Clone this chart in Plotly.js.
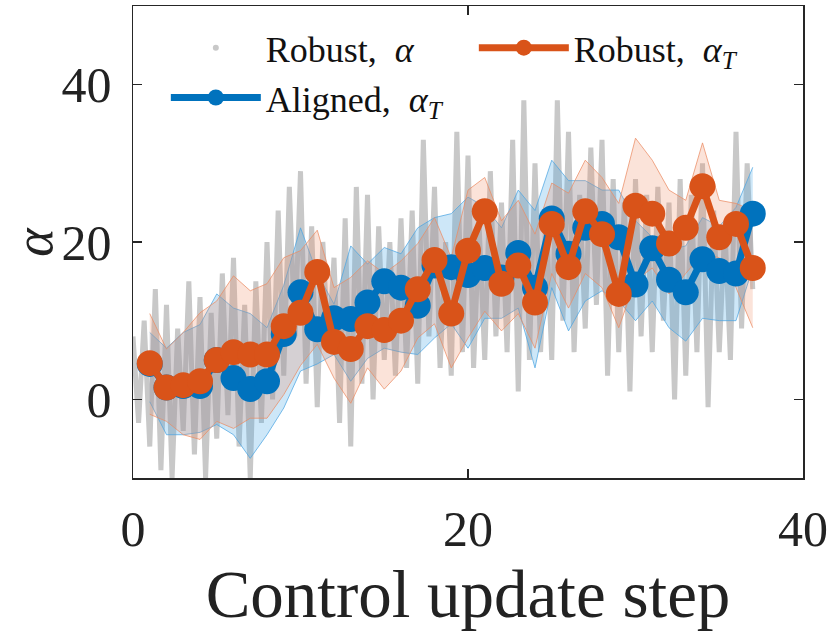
<!DOCTYPE html>
<html>
<head>
<meta charset="utf-8">
<script src="https://cdn.plot.ly/plotly-3.0.1.min.js"></script>
<style>
  html, body { margin: 0; padding: 0; background: #fff; }
  #plot { width: 830px; height: 631px; }
</style>
</head>
<body>
<div id="plot"></div>
<script>
// control update steps
var steps = [1,2,3,4,5,6,7,8,9,10,11,12,13,14,15,16,17,18,19,20,21,22,23,24,25,26,27,28,29,30,31,32,33,34,35,36,37];

// Aligned, alpha_T (mean and band)
var alignedMean  = [4.5,1.5,1.7,1.7,5.0,2.7,1.3,2.3,8.3,13.6,8.9,10.3,10.2,12.3,15.0,14.2,11.9,17.0,16.8,15.8,16.7,15.5,18.6,14.2,23.0,18.5,21.8,22.3,20.6,14.6,19.2,15.2,13.6,17.8,16.3,16.0,23.6];
var alignedUpper = [8.5,6.5,8.5,9.5,13.4,11.6,10.9,9.1,14.5,21.8,16.0,12.1,19.5,17.2,19.3,18.5,21.8,23.1,23.6,25.7,24.5,21.8,26.6,24.0,30.4,27.8,27.8,26.6,26.6,22.7,20.6,19.0,19.5,23.1,22.0,24.4,29.5];
var alignedLower = [-0.3,-4.5,-4.5,-4.2,-3.2,-4.5,-7.5,-4.5,-1.1,3.6,4.5,5.7,2.3,5.2,6.5,6.0,5.7,7.8,9.6,6.5,10.3,10.3,11.6,4.0,14.2,8.7,12.5,13.8,12.5,10.0,12.5,9.1,7.4,10.3,10.0,10.0,16.7];

// Robust, alpha_T (mean and band)
var robustMean  = [4.6,1.5,1.8,2.3,5.0,6.0,5.7,5.7,9.3,11.0,16.2,7.3,6.4,9.3,8.8,10.0,14.0,17.7,10.9,18.9,23.9,14.7,17.0,12.3,22.3,16.8,23.9,21.0,13.4,24.6,23.6,19.8,21.8,27.1,20.6,22.3,16.7];
var robustUpper = [10.9,6.4,8.5,11.0,12.5,15.7,13.8,14.7,18.0,18.9,21.5,14.2,15.5,17.6,16.0,17.6,19.8,23.1,18.0,26.6,28.2,22.7,25.3,21.0,27.5,26.2,30.4,28.2,24.9,33.2,30.4,26.6,25.3,32.6,25.3,24.9,24.0];
var robustLower = [-1.9,-2.8,-4.5,-5.1,-2.8,-3.7,-2.4,-2.4,0.6,4.3,7.0,2.7,-0.5,4.0,1.3,3.6,7.8,9.6,4.0,7.8,11.2,8.7,10.9,6.5,16.0,11.6,16.0,14.2,9.1,15.1,16.7,13.4,16.0,18.5,18.0,14.2,9.1];

// Robust, alpha sampled three times per step
var alphaFine = [
  8,-3,10,  -6,14,-9,  12,-10,9,  -4,15,-7,  13,-10,11,
  -5,16,-2,  18,-6,12,  -10,15,-3,  20,0,24,  3,27,8,
  29,2,22,  -1,20,6,  18,-3,23,  -6,27,2,  26,0,22,
  5,20,3,  23,4,24,  2,33,8,  27,4,20,  3,34,6,
  31,4,22,  5,29,8,  25,6,33,  1,38,5,  30,6,24,
  5,38,10,  34,6,26,  9,32,12,  33,3,28,  6,25,1,
  28,8,26,  6,27,10,  25,0,28,  3,26,6,  30,-1,24,
  6,22,5,  34,9,30,  14
];
var alphaFineX = alphaFine.map(function(_, i) { return i / 3; });

var blue = '#0072BD';
var orange = '#D95319';
var serif = '"Liberation Serif", "DejaVu Serif", serif';

var traces = [
    {
        x: alphaFineX, y: alphaFine,
        mode: 'lines',
        line: {color: '#c8c8c8', width: 5},
        showlegend: false, hoverinfo: 'skip'
    },
    // legend entry for the fine alpha samples
    {
        x: [null], y: [null],
        mode: 'markers',
        marker: {color: '#c8c8c8', size: 6},
        name: 'Robust,  <i>α</i>',
        legendrank: 1
    },
    {
        x: steps, y: alignedLower,
        mode: 'lines', line: {color: 'rgba(77,165,225,0.75)', width: 1},
        showlegend: false, hoverinfo: 'skip'
    },
    {
        x: steps, y: alignedUpper,
        mode: 'lines', line: {color: 'rgba(77,165,225,0.75)', width: 1},
        fill: 'tonexty', fillcolor: 'rgba(77,170,230,0.28)',
        showlegend: false, hoverinfo: 'skip'
    },
    {
        x: steps, y: robustLower,
        mode: 'lines', line: {color: 'rgba(235,140,100,0.75)', width: 1},
        showlegend: false, hoverinfo: 'skip'
    },
    {
        x: steps, y: robustUpper,
        mode: 'lines', line: {color: 'rgba(235,140,100,0.75)', width: 1},
        fill: 'tonexty', fillcolor: 'rgba(240,140,95,0.24)',
        showlegend: false, hoverinfo: 'skip'
    },
    {
        x: steps, y: alignedMean,
        mode: 'lines+markers',
        line: {color: blue, width: 7},
        marker: {color: blue, size: 26},
        name: 'Aligned,  <i>α</i><sub><i>T</i></sub>',
        legendrank: 3
    },
    {
        x: steps, y: robustMean,
        mode: 'lines+markers',
        line: {color: orange, width: 7},
        marker: {color: orange, size: 26},
        name: 'Robust,  <i>α</i><sub><i>T</i></sub>',
        legendrank: 2
    }
];

var axisCommon = {
    showline: true, linecolor: '#262626', linewidth: 1.5,
    mirror: 'ticks', ticks: 'inside', ticklen: 9, tickwidth: 1.5, tickcolor: '#262626',
    showgrid: false, zeroline: false,
    tickfont: {family: serif, size: 50, color: '#222'}
};

var layout = {
    width: 830, height: 631,
    margin: {l: 133, r: 27, t: 6, b: 153},
    paper_bgcolor: '#fff', plot_bgcolor: '#fff',
    font: {family: serif, color: '#222'},
    xaxis: Object.assign({}, axisCommon, {
        range: [0, 40], tickvals: [0, 20, 40],
        ticklabelstandoff: 6,
        title: {text: 'Control update step', font: {family: serif, size: 67}, standoff: 16}
    }),
    yaxis: Object.assign({}, axisCommon, {
        range: [-10, 50], tickvals: [0, 20, 40],
        ticklabelstandoff: 10
    }),
    // y axis label placed in the left margin
    annotations: [{
        text: '<i>α</i>', textangle: -90,
        xref: 'paper', yref: 'paper', x: -0.148, y: 0.5,
        xanchor: 'center', yanchor: 'middle', showarrow: false,
        font: {family: serif, size: 54, color: '#222'}
    }],
    legend: {
        orientation: 'h',
        x: 0.049, y: 0.975, xanchor: 'left', yanchor: 'top',
        bgcolor: 'rgba(0,0,0,0)',
        entrywidth: 203, entrywidthmode: 'pixels',
        itemwidth: 90,
        font: {family: serif, size: 36, color: '#111'},
        traceorder: 'normal'
    },
    showlegend: true
};

Plotly.newPlot('plot', traces, layout, {displayModeBar: false, staticPlot: true});
</script>
</body>
</html>
